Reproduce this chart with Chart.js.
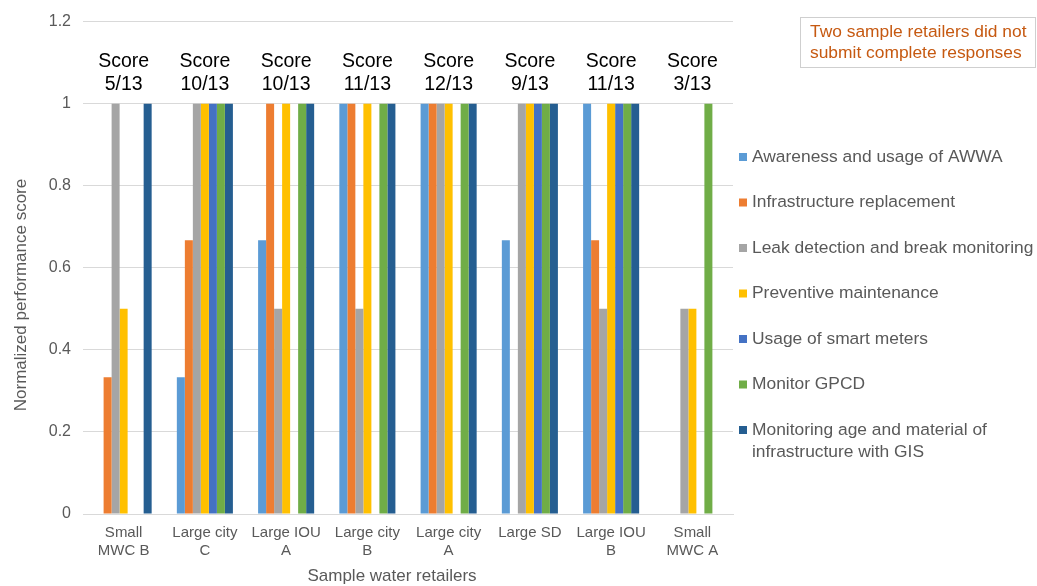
<!DOCTYPE html>
<html>
<head>
<meta charset="utf-8">
<script src="https://cdn.jsdelivr.net/npm/chart.js@4.4.1/dist/chart.umd.min.js"></script>
<style>
  html, body { margin: 0; padding: 0; background: #fff; }
  #wrap { width: 1037px; height: 586px; position: relative; }
</style>
</head>
<body>
<div id="wrap"><canvas id="chart"></canvas></div>
<script>
// ── Data ──────────────────────────────────────────────────────────────────────
const retailers = [
  ['Small', 'MWC B'], ['Large city', 'C'], ['Large IOU', 'A'], ['Large city', 'B'],
  ['Large city', 'A'], 'Large SD', ['Large IOU', 'B'], ['Small', 'MWC A']
];
const scores = ['5/13', '10/13', '10/13', '11/13', '12/13', '9/13', '11/13', '3/13'];

const awwa       = [0,     0.333, 0.667, 1,   1, 0.667, 1,     0];
const infra      = [0.333, 0.667, 1,     1,   1, 0,     0.667, 0];
const leak       = [1,     1,     0.5,   0.5, 1, 1,     0.5,   0.5];
const preventive = [0.5,   1,     1,     1,   1, 1,     1,     0.5];
const smartMeter = [0,     1,     0,     0,   0, 1,     1,     0];
const gpcd       = [0,     1,     1,     1,   1, 1,     1,     1];
const gis        = [1,     1,     1,     1,   1, 1,     1,     0];

const yTicks = [0, 0.2, 0.4, 0.6, 0.8, 1, 1.2];
const note = ['Two sample retailers did not', 'submit complete responses'];
const xTitle = 'Sample water retailers';
const yTitle = 'Normalized performance score';

// ── Style ─────────────────────────────────────────────────────────────────────
const FONT = "'Liberation Sans', Arial, sans-serif";
const GREY = '#595959';

const series = [
  { label: 'Awareness and usage of AWWA',                            data: awwa,       color: '#5B9BD5' },
  { label: 'Infrastructure replacement',                             data: infra,      color: '#ED7D31' },
  { label: 'Leak detection and break monitoring',                    data: leak,       color: '#A5A5A5' },
  { label: 'Preventive maintenance',                                 data: preventive, color: '#FFC000' },
  { label: 'Usage of smart meters',                                  data: smartMeter, color: '#4472C4' },
  { label: 'Monitor GPCD',                                           data: gpcd,       color: '#70AD47' },
  { label: 'Monitoring age and material of infrastructure with GIS', data: gis,        color: '#255E91' },
];

// ── Overlay: titles, score labels, legend, note box ──────────────────────────
const overlay = {
  id: 'overlay',
  afterDraw(chart) {
    const ctx = chart.ctx;
    const x = chart.scales.x;
    ctx.save();
    ctx.textBaseline = 'middle';

    // axis titles
    ctx.fillStyle = GREY;
    ctx.font = '17px ' + FONT;
    ctx.textAlign = 'center';
    ctx.fillText(xTitle, 392, 576);
    ctx.save();
    ctx.translate(21, 295);
    ctx.rotate(-Math.PI / 2);
    ctx.fillText(yTitle, 0, 0);
    ctx.restore();

    // score above each group
    ctx.fillStyle = '#000';
    ctx.font = '19.5px ' + FONT;
    scores.forEach((s, i) => {
      const px = x.getPixelForValue(i);
      ctx.fillText('Score', px, 62);
      ctx.fillText(s, px, 85);
    });

    // legend
    ctx.font = '17.4px ' + FONT;
    ctx.textAlign = 'left';
    chart.data.datasets.forEach((ds, i) => {
      const y = 157 + i * 45.5;
      ctx.fillStyle = ds.backgroundColor;
      ctx.fillRect(739, y - 4, 8, 8);
      ctx.fillStyle = GREY;
      wrap(ctx, ds.label, 284).forEach((line, j) => ctx.fillText(line, 752, y + j * 22));
    });

    // note box
    ctx.strokeStyle = '#cfcfcf';
    ctx.lineWidth = 1;
    ctx.strokeRect(800.5, 17.5, 235, 50);
    ctx.fillStyle = '#C65911';
    ctx.font = '17.4px ' + FONT;
    note.forEach((t, j) => ctx.fillText(t, 810, 32 + j * 21));

    ctx.restore();
  }
};

function wrap(ctx, text, maxW) {
  const words = text.split(' ');
  const lines = [];
  let cur = '';
  words.forEach(w => {
    const test = cur ? cur + ' ' + w : w;
    if (ctx.measureText(test).width > maxW && cur) { lines.push(cur); cur = w; }
    else cur = test;
  });
  if (cur) lines.push(cur);
  return lines;
}

// ── Chart ─────────────────────────────────────────────────────────────────────
new Chart(document.getElementById('chart'), {
  type: 'bar',
  data: {
    labels: retailers,
    datasets: series.map(s => ({
      label: s.label,
      data: s.data,
      backgroundColor: s.color,
      borderWidth: 0,
      categoryPercentage: 0.69,
      barPercentage: 1,
    }))
  },
  options: {
    responsive: true,
    maintainAspectRatio: false,
    animation: false,
    layout: { padding: { top: 18, right: 304, bottom: 0, left: 0 } },
    plugins: {
      legend: { display: false },
      tooltip: { enabled: false },
    },
    scales: {
      x: {
        grid: { display: false, drawTicks: false },
        border: { display: true, color: '#d9d9d9' },
        ticks: { color: GREY, font: { family: FONT, size: 15 }, padding: 10, maxRotation: 0, autoSkip: false },
        afterFit: s => { s.height = 72; },
      },
      y: {
        min: 0,
        max: 1.2,
        afterBuildTicks: s => { s.ticks = yTicks.map(v => ({ value: v })); },
        grid: { color: '#d9d9d9', drawTicks: false },
        border: { display: false },
        ticks: {
          color: GREY, font: { family: FONT, size: 16 }, padding: 12,
          callback: v => String(Number(v.toFixed(1))),
        },
        afterFit: s => { s.width = 83; },
      }
    }
  },
  plugins: [overlay]
});
</script>
</body>
</html>
